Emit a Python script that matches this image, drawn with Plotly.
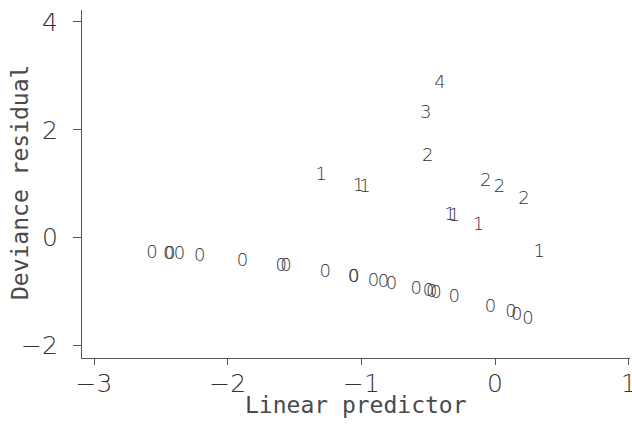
import plotly.graph_objects as go

# Linear predictor (x), deviance residual (y), observed count (label)
zero_x = [-2.566, -2.442, -2.432, -2.360, -2.209, -1.889, -1.600, -1.564, -1.271,
          -1.059, -1.056, -0.910, -0.835, -0.775, -0.590, -0.498, -0.473, -0.441,
          -0.306, -0.033, 0.120, 0.163, 0.247]
zero_y = [-0.291, -0.310, -0.312, -0.317, -0.356, -0.447, -0.540, -0.540, -0.644,
          -0.731, -0.733, -0.805, -0.837, -0.861, -0.954, -1.004, -1.015, -1.032,
          -1.111, -1.291, -1.380, -1.436, -1.510]

pos_x = [-0.411, -0.518, -0.503, -1.301, -1.022, -0.972, -0.069, 0.033, 0.217,
         -0.336, -0.306, -0.124, 0.331]
pos_y = [2.863, 2.306, 1.501, 1.161, 0.957, 0.926, 1.037, 0.926, 0.711,
         0.419, 0.388, 0.221, -0.267]
pos_count = ["4", "3", "2", "1", "1", "1", "2", "2", "2", "1", "1", "1", "1"]

x_ticks = [-3, -2, -1, 0, 1]
y_ticks = [-2, 0, 2, 4]
x_title = "Linear predictor"
y_title = "Deviance residual"

all_x = zero_x + pos_x
all_y = zero_y + pos_y
all_lab = ["0"] * len(zero_x) + pos_count

FONT = "DejaVu Sans"
MONO = "DejaVu Sans Mono"
TXT = "#333333"
TTL = "#4a4a4a"
AX = "#555555"

fig = go.Figure(go.Scatter(
    x=all_x, y=all_y, text=all_lab, mode="text",
    textposition="middle center",
    textfont=dict(family=FONT, size=18, color="#333333", weight=200),
    hoverinfo="skip", showlegend=False,
))

fig.update_layout(
    width=632, height=426,
    margin=dict(l=82, r=2, t=10, b=68, autoexpand=False),
    plot_bgcolor="white", paper_bgcolor="white",
    font=dict(family=FONT, color=TXT, weight=200),
    annotations=[
        dict(text=x_title, xref="paper", yref="paper", x=0.5, y=-0.134,
             xanchor="center", yanchor="middle", showarrow=False,
             font=dict(family=MONO, size=23, color=TTL)),
        dict(text=y_title, xref="paper", yref="paper", x=-0.113, y=0.503,
             xanchor="center", yanchor="middle", showarrow=False, textangle=-90,
             font=dict(family=MONO, size=23, color=TTL)),
    ],
)
fig.update_xaxes(
    range=[-3.09, 1.01], tickvals=x_ticks, showgrid=False, zeroline=False,
    showline=True, linecolor=AX, linewidth=1.3, automargin=False,
    ticks="outside", ticklen=6, tickcolor=AX, tickwidth=1.3,
    tickfont=dict(family=FONT, size=25, color=TXT, weight=200), ticklabelstandoff=-3,
    ticklabeloverflow="allow",
)
fig.update_yaxes(
    range=[-2.23, 4.22], tickvals=y_ticks, showgrid=False, zeroline=False,
    showline=True, linecolor=AX, linewidth=1.3, automargin=False,
    ticks="outside", ticklen=8, tickcolor=AX, tickwidth=1.3,
    tickfont=dict(family=FONT, size=25, color=TXT, weight=200), ticklabelstandoff=10,
)

fig.write_html("out.html")
